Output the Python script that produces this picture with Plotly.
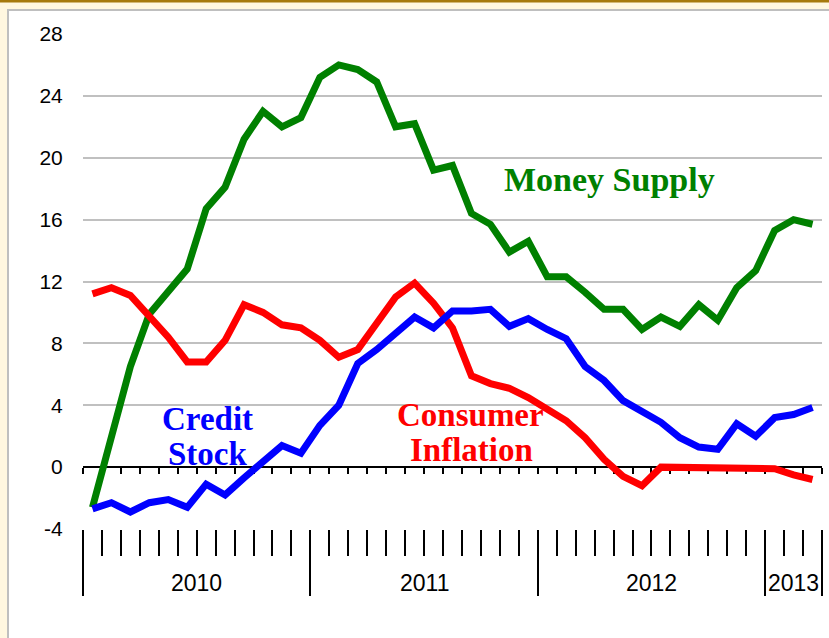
import plotly.graph_objects as go

# ---- data ----
years = [2010, 2011, 2012, 2013]
months_per_year = [12, 12, 12, 3]
months = [f"{m:02d}/{y}" for y, n in zip(years, months_per_year) for m in range(1, n + 1)]

money_supply = [-2.6, 2.0, 6.5, 9.9, 11.4, 12.8, 16.7, 18.1, 21.2, 23.0, 22.0, 22.6,
                25.2, 26.0, 25.7, 24.9, 22.0, 22.2, 19.2, 19.5, 16.4, 15.7, 13.9, 14.6,
                12.3, 12.3, 11.3, 10.2, 10.2, 8.9, 9.7, 9.1, 10.5, 9.5, 11.6, 12.7,
                15.3, 16.0, 15.7]
consumer_inflation = [11.2, 11.6, 11.1, 9.8, 8.4, 6.8, 6.8, 8.2, 10.5, 10.0, 9.2, 9.0,
                      8.2, 7.1, 7.6, 9.3, 11.0, 11.9, 10.6, 9.0, 5.9, 5.4, 5.1, 4.5,
                      3.7, 3.0, 1.9, 0.5, -0.6, -1.2, 0.0, 0.0, 0.0, -0.05, -0.1, -0.1,
                      -0.1, -0.5, -0.8]
credit_stock = [-2.7, -2.3, -2.9, -2.3, -2.1, -2.6, -1.1, -1.8, -0.7, 0.3, 1.4, 0.9,
                2.7, 4.0, 6.7, 7.6, 8.7, 9.7, 9.0, 10.1, 10.1, 10.2, 9.1, 9.6,
                8.9, 8.3, 6.5, 5.6, 4.3, 3.6, 2.9, 1.9, 1.3, 1.15, 2.8, 2.0,
                3.2, 3.4, 3.85]
y_ticks = [-4, 0, 4, 8, 12, 16, 20, 24, 28]
y_tick_text = [str(v) for v in y_ticks]

# ---- derived positions ----
n = len(months)
x = list(range(n))
month_bounds = [k - 0.5 for k in range(n + 1)]
year_bounds = [-0.5]
for cnt in months_per_year:
    year_bounds.append(year_bounds[-1] + cnt)
year_centers = [(a + b) / 2 for a, b in zip(year_bounds[:-1], year_bounds[1:])]

GREEN, RED, BLUE = "#008000", "#FF0000", "#0000FF"

fig = go.Figure()
for vals, col in [(money_supply, GREEN), (consumer_inflation, RED), (credit_stock, BLUE)]:
    fig.add_trace(go.Scatter(x=x, y=vals, mode="lines",
                             line=dict(color=col, width=7), showlegend=False,
                             hoverinfo="skip"))

# panel placement in pixels -> paper
W, H = 829, 638
L, R, T, B = 83, 7, 34, 109
pw, ph = W - L - R, H - T - B
def px_x(p): return (p - L) / pw
def px_y(p): return (H - B - p) / ph

shapes = [
    dict(type="rect", xref="paper", yref="paper", layer="below",
         x0=px_x(8), x1=px_x(W + 20), y0=px_y(10), y1=px_y(H + 20),
         fillcolor="white", line=dict(color="#BFBFBF", width=2)),
    dict(type="rect", xref="paper", yref="paper", layer="below",
         x0=px_x(-5), x1=px_x(W + 5), y0=px_y(-5), y1=px_y(2.5),
         fillcolor="#A6790D", line=dict(width=0)),
]

annotations = []
for yr, c in zip(years, year_centers):
    annotations.append(dict(x=c, y=px_y(583), xref="x", yref="paper", text=str(yr),
                            showarrow=False, xanchor="center", yanchor="middle",
                            font=dict(family="Liberation Sans", size=23, color="black")))

serif = "Liberation Serif"
labels = [
    ("<b>Money Supply</b>", 27.26, 18.6, 34, GREEN),
    ("<b>Credit</b>", 6.07, 3.12, 33, BLUE),
    ("<b>Stock</b>", 6.07, 0.87, 33, BLUE),
    ("<b>Consumer</b>", 19.97, 3.34, 33, RED),
    ("<b>Inflation</b>", 20.0, 1.1, 33, RED),
]
for txt, lx, ly, fs, col in labels:
    annotations.append(dict(x=lx, y=ly, xref="x", yref="y", text=txt, showarrow=False,
                            xanchor="center", yanchor="middle",
                            font=dict(family=serif, size=fs, color=col)))

fig.update_layout(
    width=W, height=H, autosize=False,
    margin=dict(l=L, r=R, t=T, b=B, pad=0),
    paper_bgcolor="#FFF7E0", plot_bgcolor="rgba(0,0,0,0)",
    shapes=shapes, annotations=annotations, showlegend=False,
    xaxis=dict(range=[-0.5, n - 0.5], anchor="free", position=(0 - y_ticks[0]) / (y_ticks[-1] - y_ticks[0]),
               showgrid=False, zeroline=False, showline=True, linecolor="black", linewidth=2,
               ticks="outside", tickvals=month_bounds, ticklen=6, tickwidth=2, tickcolor="black",
               showticklabels=False, layer="below traces"),
    xaxis2=dict(range=[-0.5, n - 0.5], overlaying="x", anchor="y", side="bottom",
                showgrid=False, zeroline=False, showline=False,
                ticks="outside", tickvals=month_bounds, ticklen=26, tickwidth=2, tickcolor="black",
                showticklabels=False),
    xaxis3=dict(range=[-0.5, n - 0.5], overlaying="x", anchor="y", side="bottom",
                showgrid=False, zeroline=False, showline=False,
                ticks="outside", tickvals=year_bounds, ticklen=66, tickwidth=2, tickcolor="black",
                showticklabels=False),
    yaxis=dict(range=[y_ticks[0], y_ticks[-1]], tickvals=y_ticks, ticktext=y_tick_text,
               showgrid=True, gridcolor="#C0C0C0", gridwidth=2, zeroline=False, showline=False,
               ticks="outside", ticklen=15, tickcolor="rgba(0,0,0,0)",
               tickfont=dict(family="Liberation Sans", size=21, color="black")),
)
# empty traces so the overlay axes are registered
fig.add_trace(go.Scatter(x=[], y=[], xaxis="x2", showlegend=False))
fig.add_trace(go.Scatter(x=[], y=[], xaxis="x3", showlegend=False))

fig.write_html("out.html", config={"displayModeBar": False},
               post_script="document.body.style.margin='0';document.body.style.padding='0';")
